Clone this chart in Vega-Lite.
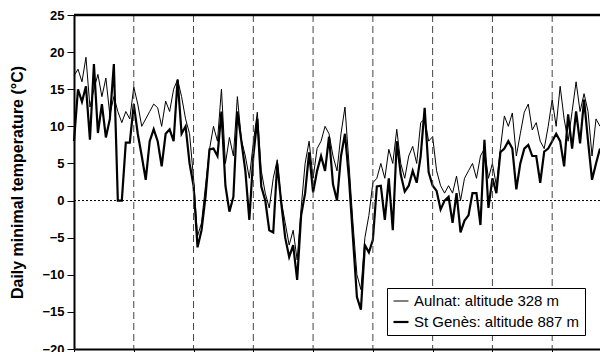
{
  "$schema": "https://vega.github.io/schema/vega-lite/v6.json",
  "autosize": {"type": "none"},
  "width": 526,
  "height": 334,
  "padding": {"left": 74, "top": 15, "right": 0, "bottom": 3},
  "config": {
    "view": {"stroke": null},
    "font": "Liberation Sans",
    "axis": {"grid": false, "domainColor": "black", "tickColor": "black", "domainWidth": 2}
  },
  "datasets": {
    "temps": [
      {"day":0,"A":16.8,"G":8},{"day":2,"A":17.7,"G":15},{"day":4,"A":16,"G":13.3},{"day":6,"A":19.3,"G":15.4},
      {"day":8,"A":12.6,"G":8.2},{"day":10,"A":15,"G":18.4},{"day":12,"A":17,"G":9.1},{"day":14,"A":14,"G":13},
      {"day":16,"A":16.5,"G":8.5},{"day":18,"A":11.5,"G":11},{"day":20,"A":14,"G":18.4},{"day":22,"A":12,"G":0},
      {"day":24,"A":10.5,"G":0},{"day":26,"A":12,"G":7.8},{"day":28,"A":11,"G":7.8},{"day":30,"A":15.3,"G":13},
      {"day":32,"A":13,"G":9},{"day":34,"A":10,"G":6},{"day":36,"A":11,"G":2.8},{"day":38,"A":12,"G":8},
      {"day":40,"A":13,"G":9.6},{"day":42,"A":12.5,"G":8},{"day":44,"A":10,"G":4.6},{"day":46,"A":13.4,"G":9},
      {"day":48,"A":12,"G":9.6},{"day":50,"A":15,"G":8},{"day":52,"A":16.3,"G":16.3},{"day":54,"A":14,"G":9},
      {"day":56,"A":11,"G":10},{"day":58,"A":9,"G":5},{"day":60,"A":3,"G":2},{"day":62,"A":-4.8,"G":-6.3},
      {"day":64,"A":-3,"G":-4},{"day":66,"A":2,"G":0.5},{"day":68,"A":6.9,"G":6.9},{"day":70,"A":10,"G":7},
      {"day":72,"A":8,"G":6},{"day":74,"A":15,"G":12},{"day":76,"A":5,"G":2},{"day":78,"A":8.5,"G":-1.5},
      {"day":80,"A":6,"G":0.5},{"day":82,"A":14,"G":12},{"day":84,"A":8.2,"G":8},{"day":86,"A":6,"G":4},
      {"day":88,"A":3,"G":-2.6},{"day":90,"A":7.8,"G":6},{"day":92,"A":11.9,"G":11},{"day":94,"A":4,"G":1.9},
      {"day":96,"A":1,"G":0},{"day":98,"A":-1,"G":-4},{"day":100,"A":3,"G":-4.3},{"day":102,"A":5.5,"G":5},
      {"day":104,"A":0,"G":-0.3},{"day":106,"A":-3,"G":-5},{"day":108,"A":-6,"G":-7.6},{"day":110,"A":-4,"G":-6},
      {"day":112,"A":-8,"G":-10.7},{"day":114,"A":-1,"G":-2},{"day":116,"A":5,"G":1},{"day":118,"A":8,"G":6.5},
      {"day":120,"A":3,"G":1.1},{"day":122,"A":7,"G":4},{"day":124,"A":8,"G":6},{"day":126,"A":10,"G":4},
      {"day":128,"A":9,"G":8.6},{"day":130,"A":6,"G":2.2},{"day":132,"A":4,"G":0},{"day":134,"A":9,"G":6},
      {"day":136,"A":12.6,"G":9},{"day":138,"A":5,"G":3},{"day":140,"A":-3,"G":-5},{"day":142,"A":-10,"G":-13},
      {"day":144,"A":-12,"G":-14.7},{"day":146,"A":-5,"G":-6},{"day":148,"A":-2,"G":-7},{"day":150,"A":2.4,"G":-5.3},
      {"day":152,"A":3,"G":1.9},{"day":154,"A":5,"G":2},{"day":156,"A":3,"G":-2.6},{"day":158,"A":6.9,"G":3},
      {"day":160,"A":5,"G":-4},{"day":162,"A":9.6,"G":8},{"day":164,"A":5,"G":3.5},{"day":166,"A":3,"G":1.2},
      {"day":168,"A":6,"G":2},{"day":170,"A":7.3,"G":4},{"day":172,"A":5,"G":2.4},{"day":174,"A":10.5,"G":6},
      {"day":176,"A":11,"G":12.5},{"day":178,"A":8,"G":3.8},{"day":180,"A":8.6,"G":2},{"day":182,"A":4,"G":1.3},
      {"day":184,"A":2,"G":-1.2},{"day":186,"A":1,"G":0},{"day":188,"A":2,"G":0.5},{"day":190,"A":1,"G":-3},
      {"day":192,"A":3.3,"G":1},{"day":194,"A":0,"G":-4.3},{"day":196,"A":3,"G":-2.7},{"day":198,"A":4,"G":-2},
      {"day":200,"A":5,"G":1},{"day":202,"A":3,"G":1},{"day":204,"A":6,"G":-3.3},{"day":206,"A":7,"G":8.2},
      {"day":208,"A":3,"G":-1},{"day":210,"A":5,"G":3},{"day":212,"A":2,"G":1},{"day":214,"A":7,"G":6.5},
      {"day":216,"A":11.4,"G":7},{"day":218,"A":10,"G":8},{"day":220,"A":11.8,"G":7},{"day":222,"A":6,"G":1.5},
      {"day":224,"A":9,"G":5},{"day":226,"A":11.9,"G":7},{"day":228,"A":13,"G":7.5},{"day":230,"A":9.5,"G":6},
      {"day":232,"A":10.5,"G":6},{"day":234,"A":8,"G":2.4},{"day":236,"A":7,"G":6.6},{"day":238,"A":10,"G":7},
      {"day":240,"A":13.6,"G":8},{"day":242,"A":10,"G":9},{"day":244,"A":15.4,"G":8},{"day":246,"A":11,"G":4.6},
      {"day":248,"A":8,"G":11.6},{"day":250,"A":12,"G":7},{"day":252,"A":16,"G":12},{"day":254,"A":12,"G":7.7},
      {"day":256,"A":14.4,"G":13.6},{"day":258,"A":12,"G":8},{"day":260,"A":6,"G":2.8},{"day":262,"A":11,"G":5},
      {"day":264,"A":10,"G":7}
    ],
    "months": [{"d":30},{"d":60},{"d":90},{"d":120},{"d":150},{"d":180},{"d":210},{"d":240}],
    "refs": [{"v":0,"kind":"zero"},{"v":25,"kind":"top"}]
  },
  "layer": [
    {
      "data": {"name": "temps"},
      "transform": [{"fold": ["A", "G"], "as": ["station", "temp"]}],
      "mark": {"type": "line", "color": "black", "strokeJoin": "miter"},
      "encoding": {
        "x": {"field": "day", "type": "quantitative", "scale": {"domain": [0, 264], "nice": false, "zero": false},
              "axis": {"values": [0,30,60,90,120,150,180,210,240], "tickCount": 20, "labels": false, "title": null, "tickSize": 4, "tickWidth": 1}},
        "y": {"field": "temp", "type": "quantitative",
              "scale": {"domain": [-20, 25], "nice": false, "zero": false},
              "axis": {"values": [-20,-15,-10,-5,0,5,10,15,20,25], "tickCount": 20, "title": "Daily minimal temperature (°C)",
                       "labelOverlap": false, "labelBound": false,
                       "titleFontSize": 16, "titleFontWeight": "bold", "titleFont": "Liberation Sans", "titlePadding": 16,
                       "labelFontSize": 13, "labelFontWeight": "bold", "labelColor": "black", "titleColor": "black",
                       "tickSize": 7, "labelPadding": 3}},
        "detail": {"field": "station"},
        "strokeWidth": {"field": "station", "type": "nominal",
                        "scale": {"domain": ["A", "G"], "range": [1, 2.2]},
                        "legend": {"title": null, "orient": "none", "legendX": 313, "legendY": 273,
                                   "labelExpr": "datum.label == 'A' ? 'Aulnat: altitude 328 m' : 'St Genès: altitude 887 m'",
                                   "labelFontSize": 15, "labelColor": "black", "symbolType": "stroke", "symbolSize": 225,
                                   "symbolStrokeColor": "black", "strokeColor": "black", "fillColor": "white",
                                   "padding": 5, "rowPadding": 4, "labelOffset": 4, "labelLimit": 300}}
      }
    },
    {
      "data": {"name": "months"},
      "mark": {"type": "rule", "strokeDash": [7, 4], "color": "#444", "strokeWidth": 1},
      "encoding": {
        "x": {"field": "d", "type": "quantitative"}
      }
    },
    {
      "data": {"name": "refs"},
      "mark": {"type": "rule", "color": "black"},
      "encoding": {
        "y": {"field": "v", "type": "quantitative"},
        "strokeDash": {"field": "kind", "type": "nominal", "scale": {"domain": ["zero", "top"], "range": [[2, 2], [1, 0]]}, "legend": null},
        "size": {"field": "kind", "type": "nominal", "scale": {"domain": ["zero", "top"], "range": [1, 2.5]}, "legend": null}
      }
    }
  ]
}
